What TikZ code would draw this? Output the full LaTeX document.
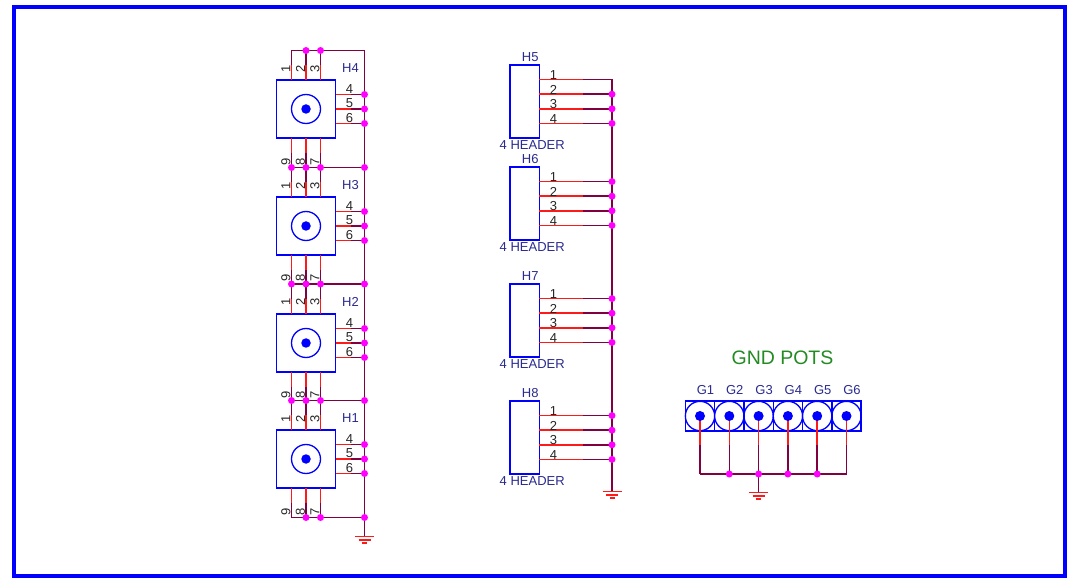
\documentclass[tikz,border=0pt]{standalone}
\usepackage{fontspec}
\setmainfont{Liberation Sans}
\definecolor{wirered}{HTML}{FF1A1A}
\definecolor{wiredark}{HTML}{800040}
\definecolor{dotpink}{HTML}{FF00FF}
\definecolor{partblue}{HTML}{0000FF}
\definecolor{labelblue}{HTML}{2B2B8F}
\definecolor{potgreen}{HTML}{228B22}
\tikzset{
  stub/.style={draw=wirered,line width=1.5pt},
  wire/.style={draw=wiredark,line width=1.5pt},
  partbox/.style={draw=partblue,line width=1.5pt,fill=white,inner sep=0pt,outer sep=0pt,rectangle},
  junction/.style={circle,fill=dotpink,inner sep=0pt,minimum size=7pt},
  pinnum/.style={font=\fontsize{13}{13}\selectfont,text=black!85,inner sep=0pt},
  refname/.style={font=\fontsize{13}{13}\selectfont,text=labelblue,inner sep=0pt},
  gndbar/.style={draw=wirered,line width=1.4pt},
  ringo/.style={circle,draw=partblue,line width=1.3pt,inner sep=0pt,fill=none},
  core/.style={circle,fill=partblue,inner sep=0pt},
}
\newcommand{\gndsym}[1]{%
  \draw[gndbar] ([xshift=-9.5pt]#1) -- ([xshift=9.5pt]#1);
  \draw[gndbar] ([xshift=-6pt,yshift=-3.3pt]#1) -- ([xshift=6pt,yshift=-3.3pt]#1);
  \draw[gndbar] ([xshift=-2.5pt,yshift=-6.6pt]#1) -- ([xshift=2.5pt,yshift=-6.6pt]#1);
}
\begin{document}
\begin{tikzpicture}[x=1pt,y=-1pt]
\useasboundingbox (0,0) rectangle (1080,580);
\fill[white] (0,0) rectangle (1080,580);
\node[draw=partblue,line width=4.2pt,inner sep=0pt,outer sep=0pt,minimum width=1051pt,minimum height=569pt] (frame) at (539.5,291.5) {};

% ---- BNC connectors H4..H1
\coordinate (busTop) at (364.5,50.5);
\coordinate (busEnd) at (364.5,536.5);
\draw[wire] (busTop) -- (busEnd);
\gndsym{busEnd}
\coordinate (L4) at (291.5,50.5);
\coordinate (L3) at (291.5,167.5);
\coordinate (L2) at (291.5,284);
\coordinate (L1) at (291.5,400.5);
\coordinate (L0) at (291.5,517.5);
\draw[wire] (L4) -- (L4-|busTop);
\draw[wire] (L3) -- (L3-|busTop);
\draw[wire] (L2) -- (L2-|busTop);
\draw[wire] (L1) -- (L1-|busTop);
\draw[wire] (L0) -- (L0-|busTop);
\foreach \n/\cy/\upper/\lower in {H4/109/L4/L3,H3/226/L3/L2,H2/343/L2/L1,H1/459/L1/L0}{
  \node[partbox,minimum width=59pt,minimum height=58pt] (\n) at (306,\cy) {};
  \foreach \dx/\k in {-14.5/1,0/2,14.5/3}{
    \coordinate (\n u\k) at ([xshift=\dx pt]\n.north);
    \coordinate (\n um\k) at ([xshift=\dx pt,yshift=15pt]\n.north);
    \coordinate (\n d\k) at ([xshift=\dx pt]\n.south);
    \coordinate (\n dm\k) at ([xshift=\dx pt,yshift=-15pt]\n.south);
    \draw[wire] (\n um\k) -- (\n um\k |- \upper);
    \draw[stub] (\n u\k) -- (\n um\k);
    \draw[wire] (\n dm\k) -- (\n dm\k |- \lower);
    \draw[stub] (\n d\k) -- (\n dm\k);
  }
  \foreach \dy/\k in {-14.5/4,0/5,14.5/6}{
    \coordinate (\n r\k) at ([yshift=-\dy pt]\n.east);
    \coordinate (\n rm\k) at ([yshift=-\dy pt,xshift=15pt]\n.east);
    \draw[wire] (\n rm\k) -- (\n rm\k -| busTop);
    \draw[stub] (\n r\k) -- (\n rm\k);
    \node[junction] (\n j\k) at (\n r\k -| busTop) {};
    \node[pinnum] (\n nr\k) at ([yshift=5.5pt,xshift=14pt]\n r\k) {\k};
  }
  \node[ringo,minimum size=29pt] (\n ring) at (\n.center) {};
  \node[core,minimum size=9.5pt] (\n core) at (\n.center) {};
  \node[pinnum,rotate=90] (\n n1) at ([xshift=-5.5pt,yshift=-18pt]\n um1 |- \upper) {1};
  \node[pinnum,rotate=90] (\n n2) at ([xshift=-5.5pt,yshift=-18pt]\n um2 |- \upper) {2};
  \node[pinnum,rotate=90] (\n n3) at ([xshift=-5.5pt,yshift=-18pt]\n um3 |- \upper) {3};
  \node[pinnum,rotate=90] (\n n9) at ([xshift=-5.5pt,yshift=6pt]\n um1 |- \lower) {9};
  \node[pinnum,rotate=90] (\n n8) at ([xshift=-5.5pt,yshift=6pt]\n um2 |- \lower) {8};
  \node[pinnum,rotate=90] (\n n7) at ([xshift=-5.5pt,yshift=6pt]\n um3 |- \lower) {7};
  \node[refname] (\n t) at ([xshift=15pt,yshift=12pt]\n.north east) {\n};
}
\foreach \c/\k in {H4u2/a,H4u3/b}{
  \node[junction] (top\k) at (\c |- L4) {};
}
\foreach \lv in {L3,L2,L1}{
  \node[junction] (\lv a) at (\lv) {};
  \node[junction] (\lv b) at (306,0 |- \lv) {};
  \node[junction] (\lv c) at (320.5,0 |- \lv) {};
  \node[junction] (\lv e) at (\lv -| busTop) {};
}
\node[junction] (L0b) at (306,0 |- L0) {};
\node[junction] (L0c) at (320.5,0 |- L0) {};
\node[junction] (L0e) at (L0 -| busTop) {};

% ---- Headers H5..H8
\coordinate (hbusTop) at (612,79.5);
\coordinate (hbusEnd) at (612,491.5);
\draw[wire] (hbusTop) -- (hbusEnd);
\gndsym{hbusEnd}
\foreach \n/\cy in {H5/101.5,H6/203.5,H7/320.5,H8/437.5}{
  \node[partbox,minimum width=29.5pt,minimum height=73pt] (\n) at (524.7,\cy) {};
  \node[refname] (\n t) at ([xshift=5.5pt,yshift=8pt]\n.north) {\n};
  \node[refname] (\n f) at ([xshift=7.5pt,yshift=-7.5pt]\n.south) {4 HEADER};
  \foreach \dy/\k in {-21.9/1,-7.3/2,7.3/3,21.9/4}{
    \coordinate (\n p\k) at ([yshift=-\dy pt]\n.east);
    \coordinate (\n q\k) at ([yshift=-\dy pt,xshift=44pt]\n.east);
    \draw[wire] (\n q\k) -- (\n q\k -| hbusTop);
    \draw[stub] (\n p\k) -- (\n q\k);
    \node[pinnum] (\n n\k) at ([xshift=14pt,yshift=4.5pt]\n p\k) {\k};
  }
}
\foreach \j in {H5p2,H5p3,H5p4,H6p1,H6p2,H6p3,H6p4,H7p1,H7p2,H7p3,H7p4,H8p1,H8p2,H8p3,H8p4}{
  \node[junction] (\j dot) at (\j -| hbusTop) {};
}

% ---- GND pots
\node[font=\fontsize{19.5}{19.5}\selectfont,text=potgreen,inner sep=0pt] (title) at (782.5,357.5) {GND POTS};
\coordinate (gbusL) at (700,474);
\coordinate (gbusR) at (846.5,474);
\draw[wire] (gbusL) -- (gbusR);
\foreach \n/\cx in {G1/700,G2/729.3,G3/758.6,G4/787.9,G5/817.2,G6/846.5}{
  \node[partbox,minimum width=29.3pt,minimum height=30pt] (\n) at (\cx,416) {};
  \node[ringo,minimum size=29.3pt] (\n ring) at (\n.center) {};
  \coordinate (\n m) at ([yshift=-14pt]\n.south);
  \draw[wire] (\n m) -- (\n m |- gbusL);
  \draw[stub] (\n.center) -- (\n m);
  \node[core,minimum size=10pt] (\n core) at (\n.center) {};
  \node[refname] (\n t) at ([xshift=5.5pt,yshift=11pt]\n.north) {\n};
}
\coordinate (ggnd) at (758.6,492.5);
\draw[wire] (G3m |- gbusL) -- (ggnd);
\gndsym{ggnd}
\foreach \n in {G2,G3,G4,G5}{
  \node[junction] (\n dot) at (\n m |- gbusL) {};
}
\end{tikzpicture}
\end{document}
